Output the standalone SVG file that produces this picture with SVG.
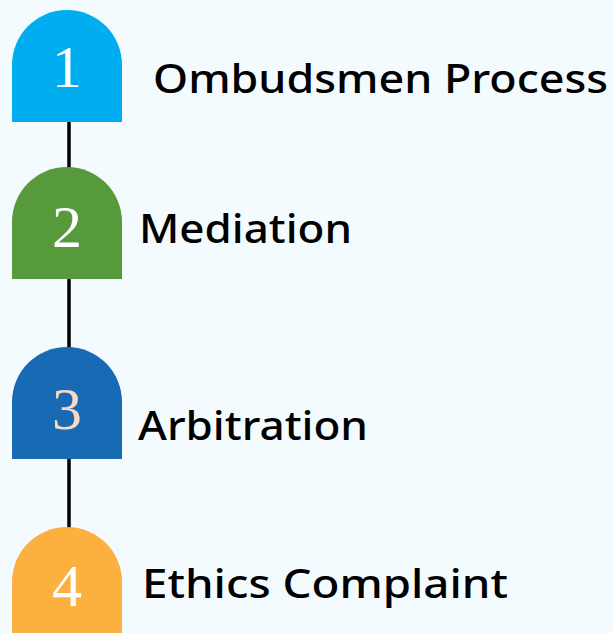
<svg xmlns="http://www.w3.org/2000/svg" width="613" height="633" viewBox="0 0 613 633">
<style>
.num{font-family:"Liberation Serif","DejaVu Serif",serif;font-size:60px;fill:#ffffff;text-anchor:middle}
.lbl{font-family:"Noto Sans","Liberation Sans",sans-serif;font-size:39px;font-weight:500;fill:#000000}
.conn{stroke:#000000;stroke-width:3.5;fill:none}
</style>
<defs>
<path id="arch" d="M0,112 V55 A55,55 0 0 1 110,55 V112 Z"/>
</defs>
<rect width="613" height="633" fill="#f3fbff"/>
<g id="connectors">
<line class="conn" x1="69" y1="120" x2="69" y2="169"/>
<line class="conn" x1="69" y1="277" x2="69" y2="349"/>
<line class="conn" x1="69" y1="457" x2="69" y2="529"/>
</g>
<g id="node1">
<use href="#arch" x="12" y="10" fill="#00aeef"/>
<text class="num" x="67" y="87">1</text>
<text class="lbl" x="153" y="93" textLength="455" lengthAdjust="spacingAndGlyphs">Ombudsmen Process</text>
</g>
<g id="node2">
<use href="#arch" x="12" y="167" fill="#569a3c"/>
<text class="num" x="67" y="247">2</text>
<text class="lbl" x="139" y="243" textLength="213" lengthAdjust="spacingAndGlyphs">Mediation</text>
</g>
<g id="node3">
<use href="#arch" x="12" y="347" fill="#176ab3"/>
<text class="num" x="67" y="429" style="fill:#f7d9c4">3</text>
<text class="lbl" x="138" y="440" textLength="230" lengthAdjust="spacingAndGlyphs">Arbitration</text>
</g>
<g id="node4">
<use href="#arch" x="12" y="527" fill="#fbb040"/>
<text class="num" x="67" y="606">4</text>
<text class="lbl" x="142" y="598" textLength="366" lengthAdjust="spacingAndGlyphs">Ethics Complaint</text>
</g>
</svg>
